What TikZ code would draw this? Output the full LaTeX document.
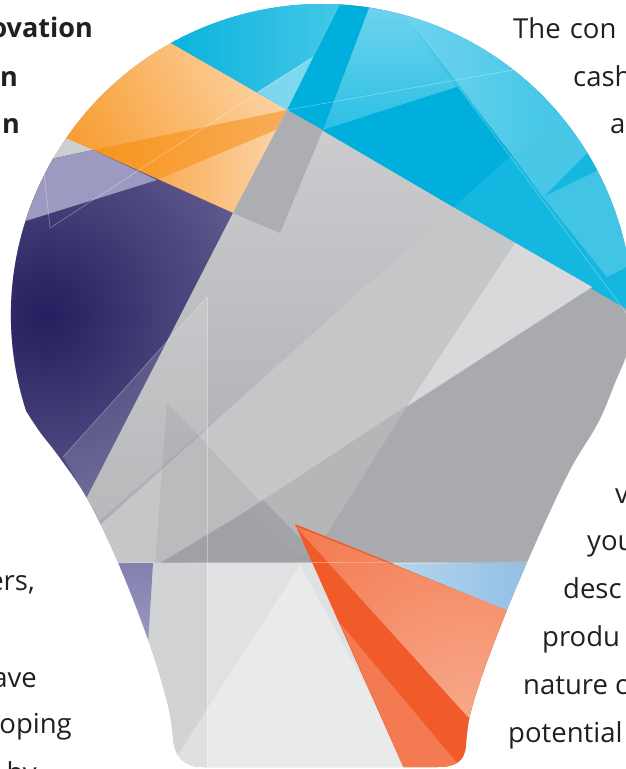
\documentclass[tikz,border=0pt]{standalone}
\usepackage{fontspec}
\setmainfont{Open Sans}

\definecolor{inktext}{HTML}{231F20}
\definecolor{graymid}{HTML}{A9AAAD}
\definecolor{graymidb}{HTML}{ADAEB1}
\definecolor{graymidc}{HTML}{B5B6B8}
\definecolor{graydark}{HTML}{A3A4A7}
\definecolor{graylight}{HTML}{CDCED0}
\definecolor{grayband}{HTML}{C5C6C8}
\definecolor{graypale}{HTML}{D8D9DA}
\definecolor{graylow}{HTML}{E0E1E2}
\definecolor{graylowb}{HTML}{D2D3D5}
\definecolor{cyanmid}{HTML}{13B7DF}
\definecolor{cyandark}{HTML}{00AFDB}
\definecolor{cyanlight}{HTML}{8ADBF0}
\definecolor{cyanpale}{HTML}{74D4EE}
\definecolor{cyanmidb}{HTML}{2BC0E4}
\definecolor{cyanlightb}{HTML}{46C8E7}
\definecolor{orangedark}{HTML}{F7941D}
\definecolor{orangemid}{HTML}{F9AD57}
\definecolor{orangelight}{HTML}{FCD2A3}
\definecolor{purpledark}{HTML}{241F5E}
\definecolor{purplelight}{HTML}{A3A1C7}
\definecolor{lilac}{HTML}{9C9AC0}
\definecolor{lilacdk}{HTML}{827FAF}
\definecolor{redorange}{HTML}{F15A29}
\definecolor{salmonlight}{HTML}{F7A98B}
\definecolor{salmon}{HTML}{F47A52}
\definecolor{skylight}{HTML}{B5D5EF}
\definecolor{skydark}{HTML}{7EB4DF}

%% outline of the bulb (pixel units, y downwards)
\newcommand\bulbpath{(26.2,411.1) arc[start angle=162, end angle=360, radius=311]
  -- plot[smooth, tension=.6] coordinates {(633,315) (628,350) (615,383) (598,423)
    (570,470) (537,540) (507,610) (484,670) (470,715) (466,745)}
  .. controls (465,762) and (455,767) .. (437,767) -- (203,767)
  .. controls (183,767) and (174,755) .. (173,737)
  -- plot[smooth, tension=.6] coordinates {(173,737) (168,705) (150,645) (120,567)
    (88,500) (60,458) (40,432) (26.2,411.1)} -- cycle}

\begin{document}
\begin{tikzpicture}[x=1pt,y=-1pt,
    txt/.style={font=\fontsize{27.5}{32}\selectfont, text=inktext, inner sep=0pt},
    txtb/.style={txt, font=\fontsize{27}{32}\selectfont\bfseries},
    seam/.style={white, opacity=.35, line width=.6pt}]

  \useasboundingbox (0,0) rectangle (625,769);

  %%%%%%%%%%%%%%%%
  % facets, clipped to the bulb
  \begin{scope}
    \clip \bulbpath;

    %% base gray
    \fill[graymid] (0,0) rectangle (640,780);

    %% cyan cap
    \fill[cyanmid] (140,25.5) -- (140,-5) -- (640,-5) -- (640,317) -- cycle;
    \shade[left color=cyandark, right color=cyanlightb] (140,25.5) -- (140,-5) -- (345,-5) -- (287,110) -- cycle;
    \fill[cyandark] (345,-5) -- (374,-5) -- (323,130) -- (287,110) -- cycle;
    \fill[cyanlight, opacity=.85] (257,92) -- (313,57) -- (287,110) -- cycle;
    \shade[top color=cyanpale, bottom color=cyanmidb] (374,-5) -- (390,-5) -- (457,87) -- (323,130) -- cycle;
    \fill[cyandark] (323,130) -- (457,87) -- (512,155) -- (453,207) -- cycle;
    \shade[left color=cyanpale, right color=cyanmidb] (390,-5) -- (640,-5) -- (640,20) -- (600,78) -- (512,155) -- cycle;
    \fill[cyanlight, opacity=.45] (512,155) -- (600,78) -- (640,100) -- (543,197) -- cycle;
    \fill[white, opacity=.2] (543,197) -- (640,150) -- (640,260) -- (607,277) -- cycle;

    %% orange
    \shade[top color=orangelight, bottom color=orangedark, shading angle=-62]
      (233,213) -- (287,110) -- (140,25.5) -- (20,20) -- (20,118) -- cycle;
    \shade[left color=orangedark, right color=orangemid] (93,150) -- (287,110) -- (276,130) -- (157,180) -- cycle;
    \shade[left color=orangemid, right color=orangelight] (157,180) -- (276,130) -- (233,213) -- cycle;

    %% small gray corner
    \fill[graylight] (93,150) -- (20,118) -- (0,170) -- cycle;

    %% purple
    \begin{scope}
      \clip (233,213) -- (93,150) -- (0,170) -- (0,560) -- (55,560) -- cycle;
      \shade[inner color=purpledark, outer color=purplelight] (45,315) circle (470);
      \fill[lilac] (93,150) -- (0,170) -- (0,229) -- (157,180) -- cycle;
    \end{scope}

    %% gray wedge under the cap
    \shade[top color=graylight, bottom color=graymid] (233,213) -- (287,110) -- (453,207) -- (58,563) -- (87,497) -- cycle;
    \fill[graymidb] (287,110) -- (323,130) -- (280,233) -- (233,213) -- cycle;

    %% light band
    \fill[grayband] (453,207) -- (592,287) -- (248,510) -- (160,563) -- (58,563) -- cycle;
    \fill[graypale] (515,243) -- (592,287) -- (408,405) -- cycle;
    \fill[graymidc] (248,510) -- (408,405) -- (323,540) -- (300,556) -- cycle;

    %% shards
    \fill[white, opacity=.14] (207,297) -- (207,427) -- (100,520) -- (63,457) -- cycle;
    \fill[black, opacity=.05] (167,402) -- (155,565) -- (319,565) -- cycle;
    \fill[graydark] (248,510) -- (263,500) -- (310,548) -- (300,556) -- cycle;

    %% lower neck
    \fill[graylow] (0,563) rectangle (640,780);
    \fill[graylowb] (0,563) rectangle (207,780);
    \fill[white, opacity=.3] (300,565) -- (170,767) -- (410,767) -- cycle;
    \shade[top color=lilacdk, bottom color=lilac] (100,563) -- (153,563) -- (148,645) -- cycle;

    %% red wedge
    \fill[redorange] (295,524) -- (560,631) -- (560,800) -- (418,800) -- cycle;
    \begin{scope}
      \clip (295,526) -- (560,631) -- (560,800) -- (543,800) -- cycle;
      \shade[inner color=salmonlight, outer color=redorange] (470,720) circle (420);
    \end{scope}
    \fill[salmon] (340,623) -- (488,800) -- (418,800) -- cycle;

    %% light blue
    \shade[left color=skylight, right color=skydark] (393,564) -- (600,562) -- (600,648) -- cycle;

    %% seams
    \draw[seam] (207,297) -- (207,767);
    \draw[seam] (63,457) -- (207,297);
    \draw[seam] (313,57) -- (50,228) -- (43,163);
    \draw[seam] (287,110) -- (513,70);
    \draw[seam] (394,0) -- (630,318);
    \draw[seam] (100,563) -- (530,562);
  \end{scope}

  %%%%%%%%%%%%%%%%
  %% text, left
  \node[txtb, anchor=base east] (ovation) at (93,37) {ovation};
  \node[txtb, anchor=base east] (lineN) at (18,86) {n};
  \node[txtb, anchor=base east] (lineAn) at (20,133) {an};
  \node[txt, anchor=base east] (ers) at (35,590) {ers,};
  \node[txt, anchor=base east] (ave) at (37,687) {ave};
  \node[txt, anchor=base east] (oping) at (72,733) {oping};
  \node[txt, anchor=base east] (by) at (37,782) {by};

  %% text, right
  \node[txt, anchor=base west] (thecon) at (513,38) {The\hspace{2pt} con};
  \node[txt, anchor=base west] (cash) at (573,86) {cash};
  \node[txt, anchor=base west] (lineA) at (610,133) {a};
  \node[txt, anchor=base west] (lineV) at (615,503) {v};
  \node[txt, anchor=base west] (you) at (587,550) {you};
  \node[txt, anchor=base west] (desc) at (563,598) {desc};
  \node[txt, anchor=base west] (produ) at (542,646) {produ};
  \node[txt, anchor=base west] (naturec) at (523,694) {nature c};
  \node[txt, anchor=base west] (potential) at (508,742) {potential};

\end{tikzpicture}
\end{document}
